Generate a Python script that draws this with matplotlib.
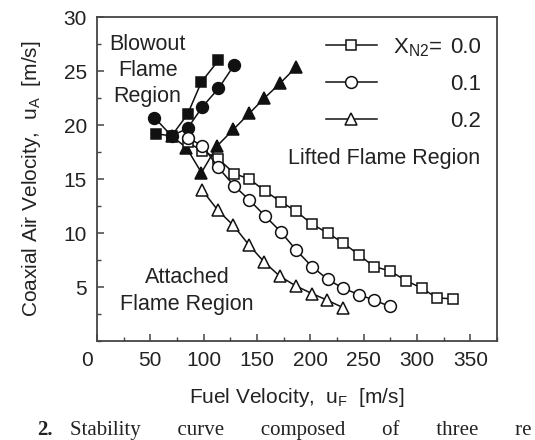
import matplotlib
matplotlib.use("Agg")
import matplotlib.pyplot as plt
import matplotlib.transforms as mtransforms
from matplotlib.ticker import MultipleLocator

plt.rcParams["font.family"] = ["Liberation Sans", "DejaVu Sans"]
plt.rcParams["mathtext.default"] = "regular"

# =====================================================
# Data
# =====================================================

# blowout limit (filled markers)
blow_x_00 = [55, 70, 85, 98, 114]
blow_y_00 = [19.2, 19.0, 21.0, 24.0, 26.0]
blow_x_01 = [54, 70, 85, 99, 114, 129]
blow_y_01 = [20.7, 19.0, 19.7, 21.7, 23.4, 25.6]
blow_x_02 = [70, 84, 98, 113, 128, 143, 157, 172, 187]
blow_y_02 = [19.0, 17.9, 15.6, 18.1, 19.6, 21.1, 22.5, 23.9, 25.4]

# lift-off / reattachment limits (open markers)
lift_x_00 = [85, 99, 113.5, 129, 143, 157.5, 172.5, 187, 202, 216.5, 230.5,
             245.5, 259.5, 274.5, 289.5, 304.5, 318.5, 333.5]
lift_y_00 = [18.4, 17.6, 16.9, 15.5, 15.0, 13.9, 12.9, 12.0, 10.8, 10.0, 9.1,
             8.0, 6.9, 6.5, 5.6, 4.9, 4.0, 3.9]
lift_x_01 = [85, 99, 113.5, 128.5, 142.5, 157.5, 172.5, 187, 201.5, 216.5,
             230.5, 245.5, 259.5, 274.5]
lift_y_01 = [18.8, 18.1, 16.1, 14.4, 13.1, 11.6, 10.1, 8.4, 6.9, 5.7,
             4.9, 4.3, 3.8, 3.2]
lift_x_02 = [98.5, 113.5, 128, 142.5, 157, 171.5, 186.5, 201.5, 215.5, 230.5]
lift_y_02 = [14.0, 12.1, 10.7, 8.9, 7.3, 6.0, 5.1, 4.4, 3.8, 3.1]

legend_labels = ["0.0", "0.1", "0.2"]
x_ticks = [0, 50, 100, 150, 200, 250, 300, 350]
y_ticks = [5, 10, 15, 20, 25, 30]

# =====================================================
# Figure
# =====================================================

fig = plt.figure(figsize=(5.35, 4.4), dpi=100)
ax = fig.add_axes([0.181, 0.225, 0.748, 0.736])

line_kw = dict(color="#111111", lw=1.1, mew=1.1, mec="#111111")

ax.plot(blow_x_00, blow_y_00, marker="s", ms=7.5, mfc="#111111", **line_kw)
ax.plot(blow_x_01, blow_y_01, marker="o", ms=8.5, mfc="#111111", **line_kw)
ax.plot(blow_x_02, blow_y_02, marker="^", ms=9, mfc="#111111", **line_kw)

h0, = ax.plot(lift_x_00, lift_y_00, marker="s", ms=7.5, mfc="white", **line_kw)
h1, = ax.plot(lift_x_01, lift_y_01, marker="o", ms=8.5, mfc="white", **line_kw)
h2, = ax.plot(lift_x_02, lift_y_02, marker="^", ms=9, mfc="white", **line_kw)

ax.set_xlim(0, 375)
ax.set_ylim(0, 30)
ax.set_xticks(x_ticks)
ax.set_yticks(y_ticks)
ax.xaxis.set_minor_locator(MultipleLocator(25))
ax.yaxis.set_minor_locator(MultipleLocator(2.5))
ax.tick_params(which="both", direction="in", colors="#444444",
               labelcolor="#222222", labelsize=15, pad=7)
ax.tick_params(which="major", length=5, width=1.1)
ax.tick_params(which="minor", length=3, width=1.0)

for sp in ax.spines.values():
    sp.set_color("#444444")
    sp.set_linewidth(1.3)

# the "0" on the x axis sits a bit left of the corner
zero_lab = ax.xaxis.get_major_ticks()[0].label1
zero_lab.set_transform(zero_lab.get_transform() +
                       mtransforms.ScaledTranslation(-0.10, 0, fig.dpi_scale_trans))

ax.set_xlabel("Fuel Velocity,  $u_F$  [m/s]", fontsize=15, color="#222222",
              labelpad=12)
ax.set_ylabel("Coaxial Air Velocity,  $u_A$  [m/s]", fontsize=15,
              color="#222222", labelpad=15)

# legend
ax.legend([h0, h1, h2], legend_labels, loc="upper right",
          bbox_to_anchor=(0.96, 0.938), frameon=False, fontsize=16,
          handlelength=2.3, handletextpad=3.3, labelspacing=0.72,
          borderpad=0, borderaxespad=0, labelcolor="#222222")
ax.text(0.74, 0.905, "$X_{N2}$=", transform=ax.transAxes, fontsize=16,
        color="#222222", ha="left", va="center")

# region names
ax.text(0.9575, 0.565, "Lifted Flame Region", transform=ax.transAxes,
        fontsize=15.5, color="#222222", ha="right", va="center")
ax.text(0.127, 0.835, "Blowout\nFlame\nRegion", transform=ax.transAxes,
        fontsize=15.5, color="#222222", ha="center", va="center",
        linespacing=1.3)
ax.text(0.225, 0.155, "Attached\nFlame Region", transform=ax.transAxes,
        fontsize=15.5, color="#222222", ha="center", va="center",
        linespacing=1.35)

# caption along the lower edge of the picture
cap_font = ["Liberation Serif", "DejaVu Serif"]
fig.text(37 / 535, 0.012, "2.", fontsize=15, family=cap_font,
         weight="bold", color="#222222", va="baseline")
fig.text(70 / 535, 0.012,
         "Stability       curve       composed       of       three       re",
         fontsize=15, family=cap_font, color="#222222", va="baseline")

fig.savefig("out.png", dpi=100)
